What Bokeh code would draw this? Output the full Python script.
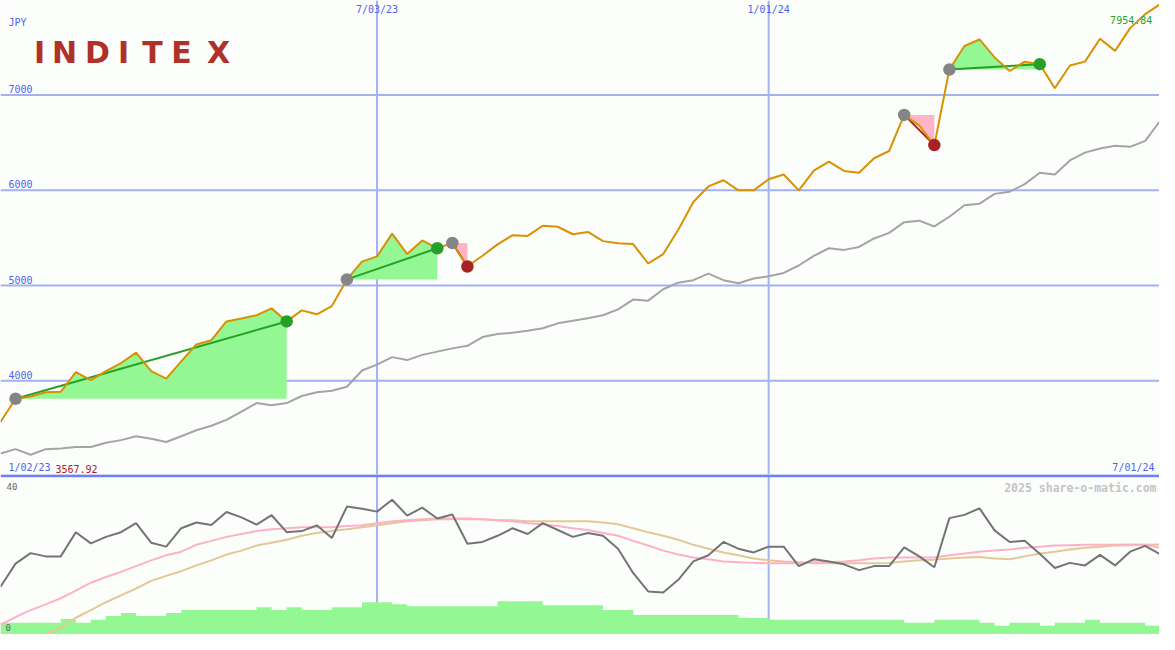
from bokeh.plotting import figure
from bokeh.models import Range1d, Label, Span
from bokeh.layouts import column
from bokeh.embed import file_html
from bokeh.resources import INLINE

# ---------------- data (weekly, index 0 = first plotted week) ----------------
price = [3567.92, 3812, 3836, 3880, 3885, 4092, 4007, 4102, 4187, 4297,
         4102, 4023, 4204, 4382, 4427, 4624, 4655, 4689, 4761, 4624,
         4740, 4699, 4785, 5065, 5252, 5307, 5546, 5331, 5474, 5392,
         5447, 5201, 5313, 5433, 5529, 5522, 5628, 5618, 5539, 5563,
         5467, 5444, 5436, 5232, 5331, 5587, 5877, 6041, 6106, 6000,
         6000, 6116, 6167, 6000, 6208, 6301, 6204, 6184, 6337, 6413,
         6792, 6679, 6475, 7269, 7515, 7584, 7396, 7253, 7351, 7325,
         7072, 7310, 7351, 7591, 7464, 7703, 7850, 7954.84]

trend = [3237, 3283, 3224, 3283, 3290, 3306, 3306, 3351, 3378, 3419,
         3392, 3358, 3419, 3481, 3529, 3590, 3677, 3767, 3744, 3767,
         3841, 3880, 3897, 3938, 4109, 4171, 4249, 4218, 4273, 4307,
         4341, 4368, 4460, 4491, 4505, 4525, 4553, 4604, 4631, 4658,
         4689, 4750, 4853, 4842, 4962, 5031, 5057, 5126, 5057, 5024,
         5075, 5098, 5133, 5211, 5313, 5392, 5375, 5406, 5495, 5553,
         5666, 5682, 5621, 5723, 5843, 5860, 5963, 5986, 6065, 6184,
         6167, 6314, 6396, 6440, 6468, 6457, 6519, 6731]

osc = [12.7, 19.1, 22.0, 21.1, 21.1, 27.8, 24.7, 26.5, 27.8, 30.3,
       24.9, 23.8, 28.9, 30.5, 29.8, 33.4, 31.9, 29.9, 32.5, 27.8,
       28.1, 29.7, 26.2, 34.9, 34.3, 33.5, 36.8, 32.4, 34.6, 31.6,
       32.7, 24.6, 25.1, 26.8, 28.9, 27.3, 30.3, 28.4, 26.5, 27.6,
       26.8, 23.2, 16.5, 11.4, 11.1, 14.6, 19.7, 21.4, 25.1, 23.2,
       22.2, 23.8, 23.8, 18.4, 20.3, 19.7, 18.9, 17.3, 18.4, 18.4,
       23.6, 21.1, 18.1, 31.7, 32.6, 34.4, 28.3, 25.1, 25.4, 21.8,
       17.9, 19.3, 18.6, 21.5, 18.6, 22.4, 24.0, 21.7]

osc_fast = [2.2, 4.3, 6.2, 7.8, 9.5, 11.6, 13.8, 15.4, 16.8, 18.4,
            20.0, 21.4, 22.4, 24.3, 25.4, 26.5, 27.3, 28.1, 28.6, 28.9,
            29.2, 29.2, 29.2, 29.5, 29.7, 30.3, 30.8, 31.1, 31.4, 31.6,
            31.6, 31.6, 31.4, 31.1, 30.8, 30.3, 30.0, 29.5, 28.9, 28.4,
            27.6, 26.8, 25.4, 24.1, 22.7, 21.6, 20.8, 20.3, 19.7, 19.5,
            19.3, 19.2, 19.2, 19.2, 19.5, 19.5, 19.7, 20.0, 20.5, 20.8,
            20.8, 20.8, 20.8, 21.4, 21.9, 22.4, 22.7, 23.0, 23.5, 23.8,
            24.1, 24.2, 24.3, 24.3, 24.3, 24.4, 24.3, 23.5]

nan = float("nan")
osc_slow = [nan, nan, -3.0, -0.5, 1.4, 4.1, 6.2, 8.4, 10.3, 12.2,
            14.3, 15.7, 17.0, 18.6, 20.0, 21.6, 22.7, 24.1, 24.9, 25.7,
            26.8, 27.6, 28.1, 28.6, 29.2, 29.7, 30.3, 30.8, 31.1, 31.4,
            31.4, 31.4, 31.4, 31.1, 31.1, 30.8, 30.8, 30.8, 30.8, 30.8,
            30.5, 30.0, 28.9, 27.8, 26.8, 25.7, 24.3, 23.2, 22.2, 21.4,
            20.5, 20.0, 19.7, 19.5, 19.2, 19.2, 19.2, 19.2, 19.2, 19.3,
            19.7, 20.0, 20.2, 20.5, 20.8, 20.9, 20.5, 20.3, 21.1, 21.9,
            22.4, 23.0, 23.5, 23.8, 24.1, 24.2, 24.3, 24.4]

volume = [12, 12, 12, 12, 16, 12, 15, 19, 22, 19,
          19, 22, 25, 25, 25, 25, 25, 28, 25, 28,
          25, 25, 28, 28, 33, 33, 31, 29, 29, 29,
          29, 29, 29, 34, 34, 34, 30, 30, 30, 30,
          25, 25, 20, 20, 20, 20, 20, 20, 20, 17,
          17, 15, 15, 15, 15, 15, 15, 15, 15, 15,
          12, 12, 15, 15, 15, 12, 9, 12, 12, 9,
          12, 12, 15, 12, 12, 12, 9, 9]

buy_idx = [1, 23, 30, 60, 63]
sell_idx = [19, 29, 31, 62, 69]

price_ticks = [4000, 5000, 6000, 7000]
price_tick_labels = ["4000", "5000", "6000", "7000"]
date_tick_pos = [25, 51]
date_tick_labels = ["7/03/23", "1/01/24"]
start_label = "1/02/23"
end_label = "7/01/24"
currency = "JPY"
osc_tick_labels = ["40", "0"]

# ---------------- style ----------------
W, H1, H2 = 1159, 474, 160
BG = "#fcfefc"
GRID = "#a4b0f2"
BLUE = "#4f5ff0"
ORANGE = "#d99100"
GREY_LINE = "#a4a4a4"
GREEN_FILL = "#93f793"
PINK_FILL = "#ffb4c8"
GREEN = "#26a026"
RED = "#a82222"
MONO = "DejaVu Sans Mono"

weeks = list(range(len(price)))
xr = Range1d(0, 76.95)

p = figure(width=W, height=H1, x_range=xr, y_range=Range1d(3017, 7993),
           x_axis_type=None, y_axis_type=None, toolbar_location=None,
           output_backend="svg", min_border=0, background_fill_color=BG,
           border_fill_color=BG, outline_line_color=None)

for t in price_ticks:
    p.add_layout(Span(location=t, dimension="width", line_color=GRID, line_width=2, level="underlay"))
for d in date_tick_pos:
    p.add_layout(Span(location=d, dimension="height", line_color=GRID, line_width=2, level="underlay"))

# trade fills (between buy level and price)
for b, s in zip(buy_idx, sell_idx):
    L = price[b]
    xs, ps = [b], [price[b]]
    for i in range(b, s):
        p0, p1 = price[i], price[i + 1]
        if (p0 - L) * (p1 - L) < 0:
            xs.append(i + (L - p0) / (p1 - p0))
            ps.append(L)
        xs.append(i + 1)
        ps.append(p1)
    p.varea(x=xs, y1=[L] * len(xs), y2=[max(v, L) for v in ps], fill_color=GREEN_FILL)
    p.varea(x=xs, y1=[L] * len(xs), y2=[min(v, L) for v in ps], fill_color=PINK_FILL)

p.line(weeks, trend, line_color=GREY_LINE, line_width=2)

for b, s in zip(buy_idx, sell_idx):
    c = GREEN if price[s] >= price[b] else RED
    p.line([b, s], [price[b], price[s]], line_color=c, line_width=2)

p.line(weeks, price, line_color=ORANGE, line_width=2)

p.scatter(buy_idx, [price[b] for b in buy_idx], size=12.5,
          fill_color="#858585", line_color=None)
for b, s in zip(buy_idx, sell_idx):
    c = GREEN if price[s] >= price[b] else RED
    p.scatter([s], [price[s]], size=12.5, fill_color=c, line_color=None)

# texts in main panel
for t, lab in zip(price_ticks, price_tick_labels):
    p.add_layout(Label(x=8, y=t, x_units="screen", text=lab, text_font=MONO,
                       text_font_size="10px", text_color=BLUE, text_baseline="bottom", y_offset=2))
for d, lab in zip(date_tick_pos, date_tick_labels):
    p.add_layout(Label(x=d, y=H1 - 3, y_units="screen", text=lab, text_font=MONO,
                       text_font_size="10px", text_color=BLUE, text_align="center", text_baseline="top"))
p.add_layout(Label(x=8, y=H1 - 16, x_units="screen", y_units="screen", text=currency,
                   text_font=MONO, text_font_size="10px", text_color=BLUE, text_baseline="top"))
p.add_layout(Label(x=len(price) - 1, y=H1 - 15, y_units="screen", x_offset=-8,
                   text="%.2f" % max(price), text_font=MONO, text_font_size="10px",
                   text_color=GREEN, text_align="right", text_baseline="top"))
p.add_layout(Label(x=8, y=2, x_units="screen", y_units="screen", text=start_label,
                   text_font=MONO, text_font_size="10px", text_color=BLUE, text_baseline="bottom"))
p.add_layout(Label(x=55, y=2, x_units="screen", y_units="screen", text="%.2f" % min(price),
                   text_font=MONO, text_font_size="10px", text_color=RED, text_baseline="bottom"))
p.add_layout(Label(x=W - 5, y=2, x_units="screen", y_units="screen", text=end_label,
                   text_font=MONO, text_font_size="10px", text_color=BLUE, text_align="right",
                   text_baseline="bottom"))

# logo
logo = "INDITEX"
logo_x = [39, 64, 97, 123, 152, 181, 218]
for ch, lx in zip(logo, logo_x):
    p.add_layout(Label(x=lx, y=H1 - 34, x_units="screen", y_units="screen", text=ch,
                       text_font="DejaVu Sans", text_font_style="bold", text_font_size="30px",
                       text_color="#b0302a", text_align="center", text_baseline="top"))

# ---------------- lower panel ----------------
q = figure(width=W, height=H2, x_range=xr, y_range=Range1d(-0.54, 43.78),
           x_axis_type=None, y_axis_type=None, toolbar_location=None,
           output_backend="svg", min_border=0, background_fill_color=BG,
           border_fill_color=BG, outline_line_color=None)
q.extra_y_ranges = {"vol": Range1d(0, 164)}

for d in date_tick_pos:
    q.add_layout(Span(location=d, dimension="height", line_color=GRID, line_width=2, level="underlay"))

q.varea_step(x=weeks + [len(weeks)], y1=[0] * (len(volume) + 1), y2=volume + [volume[-1]],
             step_mode="after", y_range_name="vol", fill_color=GREEN_FILL)
q.line(weeks, osc_slow, line_color="#e2c896", line_width=2)
q.line(weeks, osc_fast, line_color="#ffb0c8", line_width=2)
q.line(weeks, osc, line_color="#747474", line_width=2)

q.add_layout(Span(location=43.45, dimension="width", line_color="#7082f0", line_width=3))

q.add_layout(Label(x=6, y=H2 - 8, x_units="screen", y_units="screen", text=osc_tick_labels[0],
                   text_font=MONO, text_font_size="9px", text_color="#666666", text_baseline="top"))
q.add_layout(Label(x=5, y=4, x_units="screen", y_units="screen", text=osc_tick_labels[1],
                   text_font=MONO, text_font_size="9px", text_color="#666666", text_baseline="bottom"))
q.add_layout(Label(x=W - 3, y=H2 - 6, x_units="screen", y_units="screen",
                   text="2025 share-o-matic.com", text_font=MONO, text_font_style="bold",
                   text_font_size="11.5px", text_color="#c4c4c4", text_align="right",
                   text_baseline="top"))

layout = column(p, q, spacing=0)
open("out.html", "w").write(file_html(layout, INLINE))
